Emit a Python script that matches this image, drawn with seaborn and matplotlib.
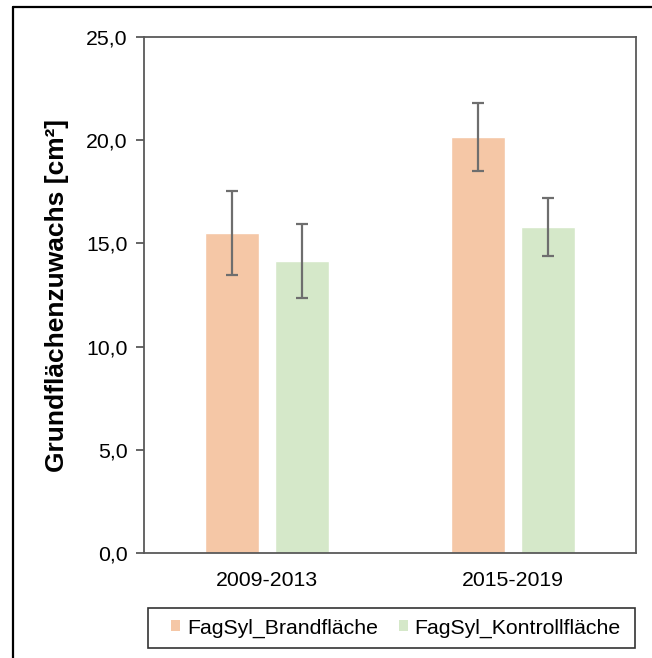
import matplotlib
matplotlib.use("Agg")
import matplotlib.pyplot as plt
from matplotlib.lines import Line2D
from matplotlib.patches import Patch, Rectangle
import seaborn as sns
import pandas as pd

# values
periods = ["2009-2013", "2015-2019"]
series = ["FagSyl_Brandfläche", "FagSyl_Kontrollfläche"]
brand_vals = [15.5, 20.15]
kontroll_vals = [14.15, 15.8]
brand_err = [2.05, 1.65]
kontroll_err = [1.8, 1.4]
yticks = [0, 5, 10, 15, 20, 25]

colors = ["#F5C7A6", "#D5E8C9"]
spine_col = "#595959"
fs = 15.3

sns.set_theme(style="white")
plt.rcParams["font.family"] = ["Liberation Sans", "DejaVu Sans"]
plt.rcParams["text.color"] = "black"
plt.rcParams["axes.labelcolor"] = "black"
plt.rcParams["xtick.labelcolor"] = "black"
plt.rcParams["ytick.labelcolor"] = "black"

df = pd.DataFrame({
    "period": periods * 2,
    "series": [series[0]] * 2 + [series[1]] * 2,
    "value": brand_vals + kontroll_vals,
    "err": brand_err + kontroll_err,
})

fig = plt.figure(figsize=(6.52, 6.58), dpi=100)
ax = fig.add_axes([144 / 652, 1 - 553 / 658, (636 - 144) / 652, (553 - 37) / 658])

sns.barplot(data=df, x="period", y="value", hue="series", order=periods,
            hue_order=series, palette=colors, width=0.574, gap=0.24,
            errorbar=None, legend=False, ax=ax, saturation=1)

# error bars at bar centres
bars = [p for p in ax.patches if p.get_height() > 0]
for p in bars:
    xc = p.get_x() + p.get_width() / 2
    h = p.get_height()
    row = df[(df["value"] - h).abs() < 1e-9].iloc[0]
    ax.errorbar(xc, h, yerr=row["err"], color="#6E6E6E", elinewidth=1.6,
                capsize=4.5, capthick=1.6, fmt="none")

ax.set_ylim(0, 25)
ax.set_xlim(-0.5, 1.5)
ax.set_yticks(yticks)
ax.set_yticklabels([f"{v:.1f}".replace(".", ",") for v in yticks], fontsize=fs)
ax.tick_params(axis="x", labelsize=fs, length=0, pad=13, labelcolor="black")
ax.tick_params(axis="y", left=True, length=6, width=1.3, color=spine_col, pad=6,
               labelcolor="black")
for s in ax.spines.values():
    s.set_color(spine_col)
    s.set_linewidth(1.3)
ax.set_xlabel("")
ax.set_ylabel("Grundflächenzuwachs [cm²]", fontsize=19, fontweight="bold",
              labelpad=12, color="black")

# legend: box drawn separately, entries centred inside
fig.add_artist(Rectangle((148 / 652, 1 - 648 / 658), (635 - 148) / 652, 40 / 658,
                         transform=fig.transFigure, fill=False, edgecolor="#333333", lw=1.2))
handles = [Patch(facecolor=c, edgecolor="none") for c in colors]
fig.legend(handles, series, loc="center", ncol=2,
           bbox_to_anchor=(396 / 652, 1 - 628 / 658),
           fontsize=fs, frameon=False, labelcolor="black",
           handlelength=0.42, handleheight=0.42, handletextpad=0.3,
           columnspacing=1.0, borderpad=0)

# outer frame lines (top and left of screenshot)
fig.add_artist(Line2D([12.5 / 652, 1], [1 - 7 / 658, 1 - 7 / 658], color="black", lw=1.6,
                      transform=fig.transFigure))
fig.add_artist(Line2D([12.5 / 652, 12.5 / 652], [0, 1 - 7 / 658], color="black", lw=1.6,
                      transform=fig.transFigure))

fig.savefig("out.png", dpi=100)
